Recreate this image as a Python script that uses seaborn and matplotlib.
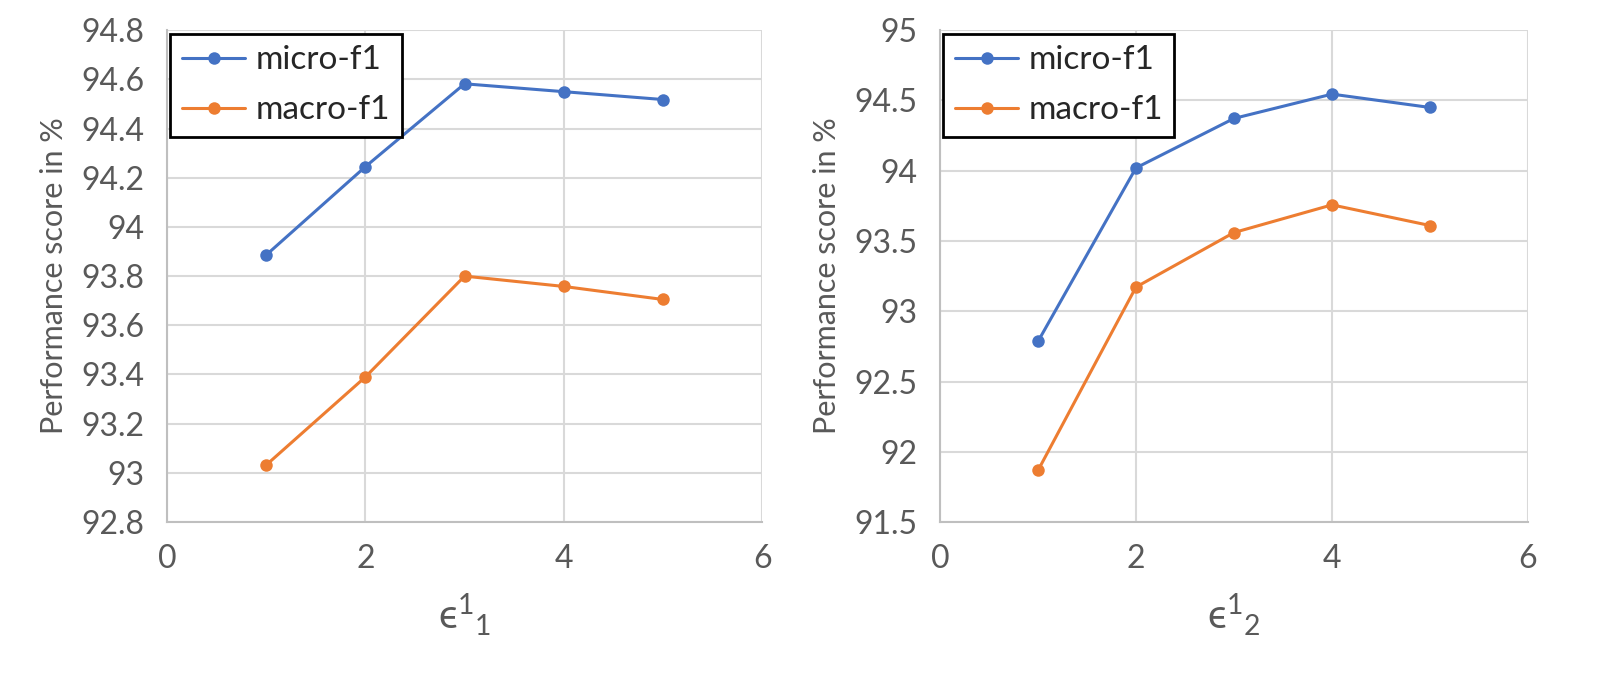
import numpy as np
import pandas as pd
import seaborn as sns
import matplotlib.pyplot as plt

# values
eps = [1, 2, 3, 4, 5]
micro_eps1 = [93.886, 94.245, 94.582, 94.550, 94.518]
macro_eps1 = [93.032, 93.390, 93.800, 93.758, 93.705]
micro_eps2 = [92.785, 94.020, 94.372, 94.545, 94.450]
macro_eps2 = [91.867, 93.172, 93.560, 93.757, 93.610]

series_names = ['micro-f1', 'macro-f1']
colors = ['#4472C4', '#ED7D31']
xlabels = ['\u03f5$^{1}$$_{1}$', '\u03f5$^{1}$$_{2}$']

sns.set_style('white')
plt.rcParams['font.family'] = ['Lato', 'DejaVu Sans']
plt.rcParams['mathtext.fontset'] = 'custom'
plt.rcParams['mathtext.rm'] = 'Lato'
plt.rcParams['mathtext.it'] = 'Lato'
plt.rcParams['mathtext.default'] = 'regular'

grey_txt = '#595959'

fig = plt.figure(figsize=(16.14, 6.86), dpi=100)
ax1 = fig.add_axes([0.1035, 0.239, 0.3687, 0.717])
ax2 = fig.add_axes([0.5824, 0.239, 0.3643, 0.717])

panels = [
    (ax1, micro_eps1, macro_eps1, (92.8, 94.8), np.arange(92.8, 94.81, 0.2)),
    (ax2, micro_eps2, macro_eps2, (91.5, 95.0), np.arange(91.5, 95.01, 0.5)),
]

for i, (ax, mic, mac, ylim, yt) in enumerate(panels):
    df = pd.DataFrame({'eps': eps * 2,
                       'score': mic + mac,
                       'series': [series_names[0]] * 5 + [series_names[1]] * 5})
    sns.lineplot(data=df, x='eps', y='score', hue='series', palette=colors,
                 marker='o', markersize=9, markeredgewidth=0, linewidth=2.2,
                 ax=ax)
    ax.set_xlim(0, 6)
    ax.set_ylim(*ylim)
    ax.set_xticks([0, 2, 4, 6])
    ax.set_yticks(yt)
    ax.set_yticklabels([f'{v:g}' for v in np.round(yt, 1)])
    ax.grid(True, color='#d9d9d9', linewidth=1.5)
    ax.set_axisbelow(True)
    for s in ['top', 'right']:
        ax.spines[s].set_visible(False)
    for s in ['left', 'bottom']:
        ax.spines[s].set_color('#bfbfbf')
        ax.spines[s].set_linewidth(1.5)
    ax.tick_params(axis='both', labelsize=23, colors=grey_txt, length=0, pad=16)
    ax.set_ylabel('Performance score in %', fontsize=22, color=grey_txt, labelpad=10)
    ax.set_xlabel(xlabels[i], fontsize=29, color=grey_txt, labelpad=12)
    leg = ax.legend(loc='upper left', fontsize=24, frameon=True, fancybox=False,
                    handlelength=1.9, handletextpad=0.3, borderpad=0.35,
                    labelspacing=0.6, borderaxespad=0.1)
    leg.get_frame().set_edgecolor('black')
    leg.get_frame().set_linewidth(2)
    leg.get_frame().set_alpha(1)

fig.savefig('out.png', dpi=100)
